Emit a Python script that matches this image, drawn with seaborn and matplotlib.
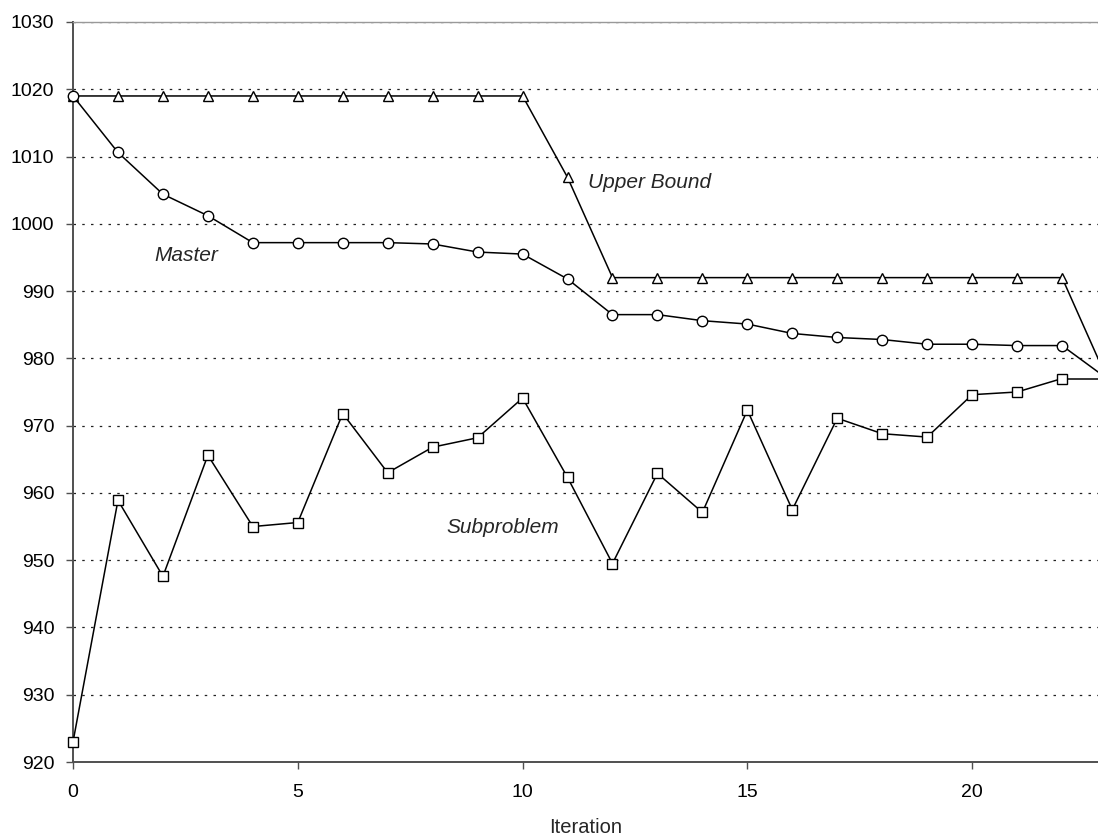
import pandas as pd
import matplotlib.pyplot as plt
import seaborn as sns

# Values
iterations = list(range(24))
upper_bound = [1019, 1019, 1019, 1019, 1019, 1019, 1019, 1019, 1019, 1019, 1019,
               1006.9, 992, 992, 992, 992, 992, 992, 992, 992, 992, 992, 992, 977]
master = [1019, 1010.6, 1004.4, 1001.2, 997.2, 997.2, 997.2, 997.2, 997.0, 995.8,
          995.5, 991.8, 986.5, 986.5, 985.6, 985.1, 983.7, 983.1, 982.8, 982.1,
          982.1, 981.9, 981.9, 977]
subproblem = [923, 958.9, 947.6, 965.6, 955.0, 955.6, 971.8, 963.0, 966.8, 968.2,
              974.1, 962.3, 949.5, 962.9, 957.1, 972.3, 957.5, 971.1, 968.8, 968.3,
              974.6, 975.0, 977.0, 977.0]

df = pd.DataFrame({'Iteration': iterations, 'Upper Bound': upper_bound,
                   'Master': master, 'Subproblem': subproblem})

sns.set_style("white")
plt.rcParams['font.family'] = ['Liberation Sans', 'DejaVu Sans']

fig = plt.figure(figsize=(10.98, 8.35), dpi=100)
ax = fig.add_axes([0.0665, 0.0874, 0.9335, 0.8863])

style = dict(color='black', linewidth=1.1, markerfacecolor='white',
             markeredgecolor='black', markeredgewidth=1.0, clip_on=False, zorder=5)
shown = df[df['Iteration'] <= 22]
sns.lineplot(data=shown, x='Iteration', y='Upper Bound', marker='^', markersize=7.5, ax=ax, **style)
sns.lineplot(data=shown, x='Iteration', y='Master', marker='o', markersize=7.5, ax=ax, **style)
sns.lineplot(data=shown, x='Iteration', y='Subproblem', marker='s', markersize=7, ax=ax, **style)
# last segment runs past the right edge of the plot
tail = df[df['Iteration'] >= 22]
for col in ['Upper Bound', 'Master', 'Subproblem']:
    sns.lineplot(data=tail, x='Iteration', y=col, color='black', linewidth=1.1, ax=ax)

ax.set_xlim(0, 22.8)
ax.set_ylim(920, 1030)
ax.set_xticks([0, 5, 10, 15, 20])
ax.set_yticks(range(920, 1031, 10))
ax.yaxis.grid(True, linestyle=(0, (2, 5)), color='#222222', linewidth=0.9)
ax.xaxis.grid(False)

ax.spines['left'].set_color('#505050')
ax.spines['bottom'].set_color('#505050')
ax.spines['top'].set_color('#999999')
ax.spines['right'].set_visible(False)
ax.spines['left'].set_linewidth(1.4)
ax.spines['bottom'].set_linewidth(1.4)
ax.spines['top'].set_linewidth(1.0)

ax.tick_params(axis='both', direction='out', length=5, width=1, labelsize=14,
               color='#505050', labelcolor='black', left=True, bottom=True)
ax.tick_params(axis='y', pad=8.5)
ax.tick_params(axis='x', pad=11)
ax.set_xlabel('Iteration', fontsize=14.5, labelpad=12)
ax.set_ylabel('')

ax.text(2.53, 995.3, 'Master', fontsize=15, style='italic', ha='center', va='center')
ax.text(12.82, 1006.2, 'Upper Bound', fontsize=15, style='italic', ha='center', va='center')
ax.text(9.56, 954.8, 'Subproblem', fontsize=15, style='italic', ha='center', va='center')

fig.savefig('out.png', dpi=100)
plt.close()
